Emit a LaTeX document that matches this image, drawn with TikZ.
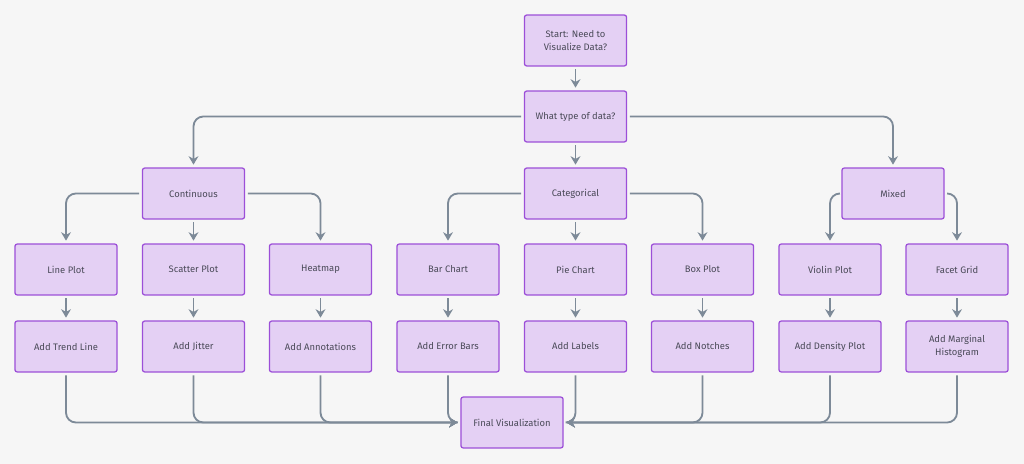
\documentclass[tikz,border=0pt]{standalone}
\usepackage{fontspec}
\setmainfont{Fira Sans}
\usetikzlibrary{arrows.meta}
\definecolor{boxfill}{HTML}{E4D0F4}
\definecolor{boxline}{HTML}{9C4FD8}
\definecolor{wire}{HTML}{7D8A98}
\definecolor{paper}{HTML}{F6F6F6}
\definecolor{ink}{HTML}{4A4A58}

\begin{document}
\begin{tikzpicture}[x=0.025cm,y=-0.025cm,>={Stealth[length=6pt,width=7pt]},
    main node/.style={rectangle,draw=boxline,fill=boxfill,line width=0.9pt,rounded corners=1.5pt,
        minimum width=2.55cm,minimum height=1.27cm,align=center,text=ink,
        font=\fontsize{6.7}{9}\selectfont},
    flow/.style={->,draw=wire,line width=1.3pt,rounded corners=7pt,shorten >=2pt,shorten <=2pt}]

            \fill[paper] (0,0) rectangle (1024,464);

            \node[main node] (start) at (575.5,40.5) {Start: Need to\\Visualize Data?};
            \node[main node] (type) at (575.5,116.5) {What type of data?};

            \node[main node] (cont) at (193.5,193.5) {Continuous};
            \node[main node] (cat) at (575.5,193.5) {Categorical};
            \node[main node] (mix) at (893,193.5) {Mixed};

            \node[main node] (line) at (66,269.5) {Line Plot};
            \node[main node] (scatter) at (193.5,269.5) {Scatter Plot};
            \node[main node] (heat) at (320.5,269.5) {Heatmap};
            \node[main node] (bar) at (448,269.5) {Bar Chart};
            \node[main node] (pie) at (575.5,269.5) {Pie Chart};
            \node[main node] (boxp) at (702.5,269.5) {Box Plot};
            \node[main node] (violin) at (830,269.5) {Violin Plot};
            \node[main node] (facet) at (957,269.5) {Facet Grid};

            \node[main node] (trend) at (66,346.5) {Add Trend Line};
            \node[main node] (jitter) at (193.5,346.5) {Add Jitter};
            \node[main node] (annot) at (320.5,346.5) {Add Annotations};
            \node[main node] (errbar) at (448,346.5) {Add Error Bars};
            \node[main node] (labels) at (575.5,346.5) {Add Labels};
            \node[main node] (notch) at (702.5,346.5) {Add Notches};
            \node[main node] (density) at (830,346.5) {Add Density Plot};
            \node[main node] (margin) at (957,346.5) {Add Marginal\\Histogram};

            \node[main node] (final) at (512,422.5) {Final Visualization};

            \draw[flow] (start) to (type);
            \draw[flow] (type) to (cat);
            \draw[flow] (type.west) -| (cont.north);
            \draw[flow] (type.east) -| (mix.north);

            \draw[flow] (cont.west) -| (line.north);
            \draw[flow] (cont) to (scatter);
            \draw[flow] (cont.east) -| (heat.north);
            \draw[flow] (cat.west) -| (bar.north);
            \draw[flow] (cat) to (pie);
            \draw[flow] (cat.east) -| (boxp.north);
            \draw[flow] (mix.west) -| (violin.north);
            \draw[flow] (mix.east) -| (facet.north);

            \foreach \a/\b in {line/trend,scatter/jitter,heat/annot,bar/errbar,pie/labels,boxp/notch,violin/density,facet/margin}
                \draw[flow] (\a) to (\b);

            % left side joins
            \foreach \a in {trend,jitter,annot,errbar}
                \draw[flow] (\a.south) |- (final.west);
            % right side joins
            \foreach \a in {labels,notch,density,margin}
                \draw[flow] (\a.south) |- (final.east);

        \end{tikzpicture}
\end{document}
